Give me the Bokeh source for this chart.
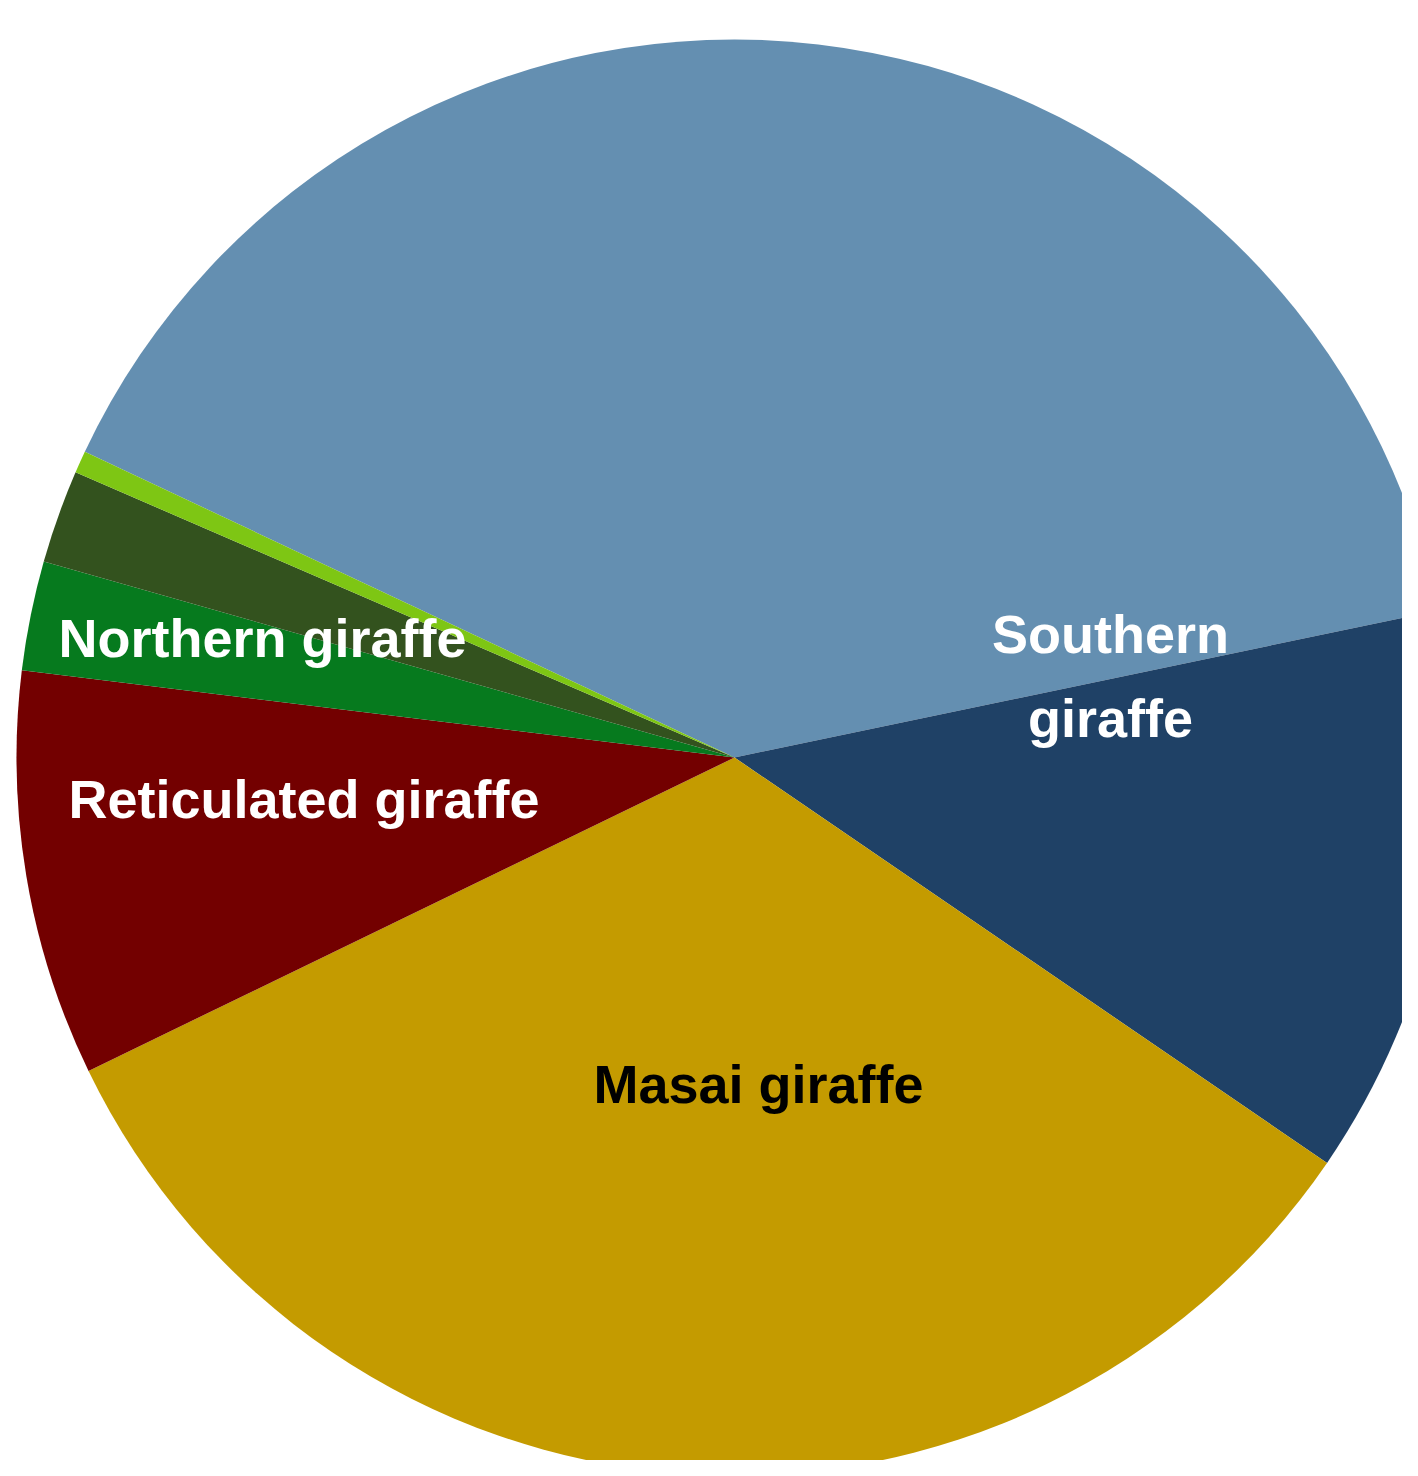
import math
from bokeh.plotting import figure
from bokeh.models import ColumnDataSource, Range1d
from bokeh.core.properties import value
from bokeh.embed import file_html
from bokeh.resources import INLINE

# ---- data (shares of the total giraffe population) ----
subspecies = ["South African giraffe", "Angolan giraffe", "Masai giraffe",
              "Reticulated giraffe", "Kordofan giraffe", "Nubian giraffe",
              "West African giraffe"]
shares = [39.72, 12.83, 33.26, 9.13, 2.46, 2.10, 0.50]
colors = ["#648FB1", "#1F4166", "#C49B00", "#730000", "#067A1E", "#33521E", "#7EC614"]

# ---- labels ----
label_texts = ["Southern\ngiraffe", "Masai giraffe", "Reticulated giraffe", "Northern giraffe"]
label_colors = ["#FFFFFF", "#000000", "#FFFFFF", "#FFFFFF"]

# ---- layout (pixels; pie centre is origin) ----
W, H = 1402, 1460
CX, CY = 734, 757          # pie centre inside the figure
R = 718
START_DEG = 154.8
label_x = [376, 24, -430.5, -472]
label_y = [82, -326, -41.5, 119.5]

total = sum(shares)
starts, ends = [], []
acc = 0.0
for s in shares:
    a0 = math.radians(START_DEG) - 2 * math.pi * acc / total
    acc += s
    a1 = math.radians(START_DEG) - 2 * math.pi * acc / total
    starts.append(a0)
    ends.append(a1)

src = ColumnDataSource(dict(name=subspecies, share=shares, color=colors,
                            start=starts, end=ends))

p = figure(width=W, height=H, output_backend="svg", toolbar_location=None,
           x_range=Range1d(-CX, W - CX), y_range=Range1d(-(H - CY), CY),
           min_border=0, x_axis_location=None, y_axis_location=None,
           background_fill_color="white", border_fill_color="white")
p.grid.visible = False
p.outline_line_color = None

p.wedge(x=0, y=0, radius=R, start_angle="start", end_angle="end",
        direction="clock", fill_color="color", line_color=None, source=src)

lsrc = ColumnDataSource(dict(x=label_x, y=label_y, text=label_texts, color=label_colors))
p.text(x="x", y="y", text="text", text_color="color", source=lsrc,
       text_font=value("Liberation Sans"),
       text_font_style="bold",
       text_font_size="54px", text_align="center", text_baseline="middle",
       text_line_height=1.4)

open("out.html", "w").write(file_html(p, INLINE))
